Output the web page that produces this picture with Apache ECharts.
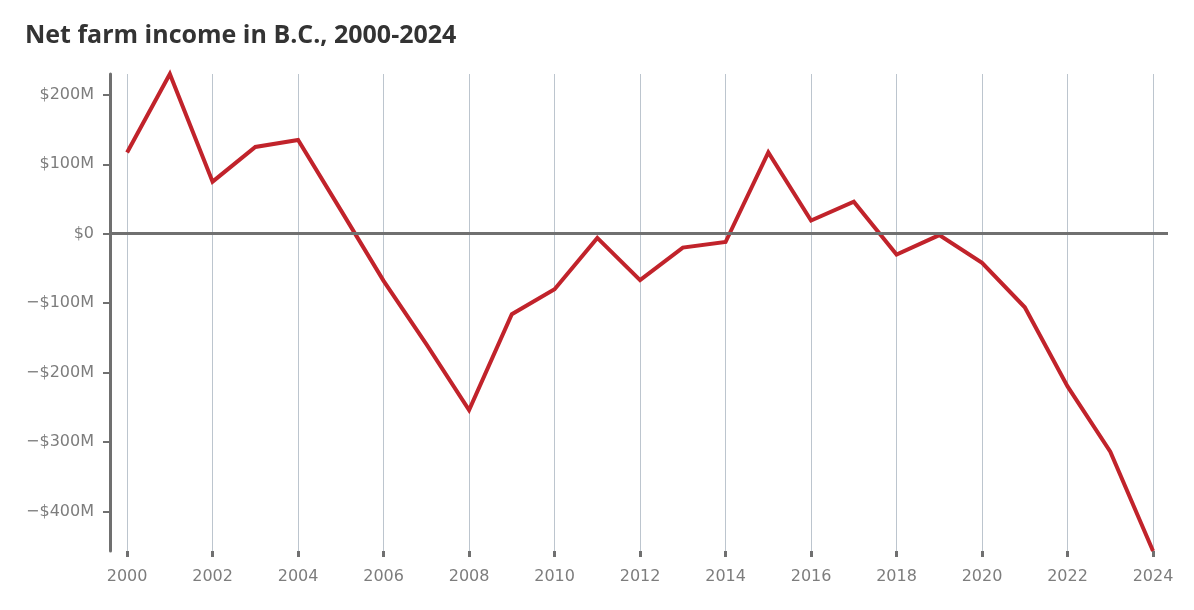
<!DOCTYPE html>
<html>
<head>
<meta charset="utf-8">
<script src="https://cdn.jsdelivr.net/npm/echarts@6/dist/echarts.min.js"></script>
<style>
  html, body { margin: 0; padding: 0; background: #fff; }
  #chart { width: 1194px; height: 610px; }
</style>
</head>
<body>
<div id="chart"></div>
<script>
// years and net farm income (millions of dollars)
const years = [2000, 2001, 2002, 2003, 2004, 2005, 2006, 2007, 2008, 2009, 2010, 2011, 2012,
  2013, 2014, 2015, 2016, 2017, 2018, 2019, 2020, 2021, 2022, 2023, 2024]
const income = [117, 230, 75, 125, 135, 34, -68, -159, -254, -116, -80, -6, -67,
  -20, -12, 117, 19, 46, -30, -2, -42, -106, -220, -314, -457]
const xTicks = [2000, 2002, 2004, 2006, 2008, 2010, 2012, 2014, 2016, 2018, 2020, 2022, 2024]
const yTicks = [-400, -300, -200, -100, 0, 100, 200]

const fmtMoney = v => v === 0 ? '$0' : (v < 0 ? '\u2212$' + (-v) + 'M' : '$' + v + 'M')

const chart = echarts.init(document.getElementById('chart'))

const option = {
  animation: false,
  title: {
    text: 'Net farm income in B.C., 2000-2024',
    left: 20,
    top: 18,
    textStyle: {
      fontFamily: 'Open Sans',
      fontWeight: 'bold',
      fontSize: 25,
      color: '#333'
    }
  },
  grid: {
    left: 110,
    right: 26,
    top: 74,
    bottom: 59
  },
  xAxis: {
    type: 'value',
    min: 1999.6,
    max: 2024.35,
    axisLine: { show: false, onZero: false },
    axisTick: {
      show: true,
      customValues: xTicks,
      length: 6,
      lineStyle: { color: '#707070', width: 3 }
    },
    axisLabel: {
      customValues: xTicks,
      margin: 18,
      fontFamily: 'DejaVu Sans',
      fontSize: 16,
      color: '#7d7d7d',
      formatter: v => String(v)
    },
    splitLine: {
      show: true,
      lineStyle: { color: '#bcc5ce', width: 1 }
    }
  },
  yAxis: {
    type: 'value',
    min: -457,
    max: 230,
    axisLine: {
      show: true,
      lineStyle: { color: '#707070', width: 3 }
    },
    axisTick: {
      show: true,
      customValues: yTicks,
      length: 7,
      lineStyle: { color: '#707070', width: 2 }
    },
    axisLabel: {
      customValues: yTicks,
      margin: 16,
      fontFamily: 'DejaVu Sans',
      fontSize: 16,
      color: '#7d7d7d',
      formatter: fmtMoney
    },
    splitLine: { show: false }
  },
  series: [
    {
      type: 'line',
      data: years.map((y, i) => [y, income[i]]),
      symbol: 'none',
      clip: false,
      lineStyle: { color: '#c1232b', width: 4, join: 'miter' },
      markLine: {
        silent: true,
        symbol: 'none',
        label: { show: false },
        lineStyle: { color: '#707070', width: 3, type: 'solid' },
        data: [{ yAxis: 0 }]
      },
      z: 3
    }
  ]
}

chart.setOption(option)
</script>
</body>
</html>
